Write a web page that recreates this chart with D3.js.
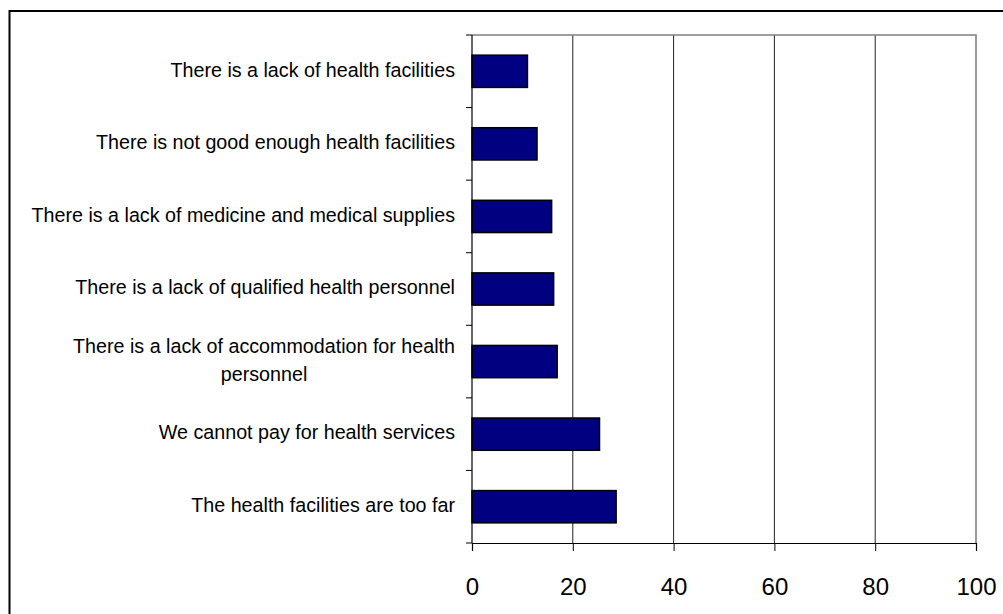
<!DOCTYPE html>
<html><head><meta charset="utf-8">
<script src="https://cdn.jsdelivr.net/npm/d3@7"></script>
<style>html,body{margin:0;padding:0;background:#fff;}svg{display:block;}</style>
</head><body>
<svg id="c" width="1003" height="614"></svg>
<script>
const categories = [
  ["There is a lack of health facilities"],
  ["There is not good enough health facilities"],
  ["There is a lack of medicine and medical supplies"],
  ["There is a lack of qualified health personnel"],
  ["There is a lack of accommodation for health", "personnel"],
  ["We cannot pay for health services"],
  ["The health facilities are too far"]
];
const values = [11.0, 12.9, 15.8, 16.2, 16.9, 25.3, 28.6];
const xTicks = [0, 20, 40, 60, 80, 100];

const svg = d3.select("#c");
const L = 472, R = 976, T = 35, B = 543;
const x = d3.scaleLinear().domain([0, 100]).range([L, R]);
const y = d3.scaleBand().domain(d3.range(categories.length)).range([T, B]).paddingInner(1.25/2.25).paddingOuter(1.25/4.5);
const yb = d3.scaleBand().domain(d3.range(categories.length)).range([T, B]);

// outer border
svg.append("rect").attr("x", 9.5).attr("y", 11).attr("width", 1100).attr("height", 700)
  .attr("fill", "none").attr("stroke", "#000").attr("stroke-width", 2);

// gridlines
svg.append("g").selectAll("line").data(xTicks.filter(d => d > 0 && d < 100)).join("line")
  .attr("x1", d => x(d)).attr("x2", d => x(d)).attr("y1", T).attr("y2", B)
  .attr("stroke", "#222").attr("stroke-width", 1);

// plot area border top/right (grey)
svg.append("path").attr("d", `M${L},${T}H${R}V${B}`).attr("fill", "none")
  .attr("stroke", "#808080").attr("stroke-width", 1.6);

// bars
svg.append("g").selectAll("rect").data(values).join("rect")
  .attr("x", x(0)).attr("y", (d, i) => y(i)).attr("width", d => x(d) - x(0)).attr("height", y.bandwidth())
  .attr("fill", "#000080").attr("stroke", "#000").attr("stroke-width", 1.5);

// x axis
const xAxis = d3.axisBottom(x).tickValues(xTicks).tickSize(8).tickPadding(27).tickFormat(d3.format("d"));
const gx = svg.append("g").attr("transform", `translate(0,${B})`).call(xAxis);
gx.select(".domain").attr("stroke", "#000").attr("stroke-width", 1.2);
gx.selectAll(".tick line").attr("stroke", "#000").attr("stroke-width", 1);
gx.selectAll("text").attr("font-family", "Liberation Sans, Arial, sans-serif").attr("font-size", 24).attr("fill", "#000");

// y axis ticks (between categories)
const bounds = d3.range(categories.length + 1).map(i => T + i * yb.step());
svg.append("line").attr("x1", L).attr("x2", L).attr("y1", T).attr("y2", B).attr("stroke", "#000").attr("stroke-width", 1.2);
svg.append("g").selectAll("line").data(bounds).join("line")
  .attr("x1", L - 6).attr("x2", L).attr("y1", d => d).attr("y2", d => d)
  .attr("stroke", "#000").attr("stroke-width", 1);

// category labels
const fs = 19.7, lh = 28.3, rightEdge = 455;
categories.forEach((lines, i) => {
  const cy = yb(i) + yb.step() / 2;
  const g = svg.append("g");
  const texts = lines.map((t, j) => g.append("text")
    .attr("font-family", "Liberation Sans, Arial, sans-serif").attr("font-size", fs).attr("fill", "#000")
    .attr("text-anchor", "middle")
    .attr("y", cy + (j - (lines.length - 1) / 2) * lh).attr("dy", "0.27em").text(t));
  const maxW = d3.max(texts, t => t.node().getComputedTextLength());
  texts.forEach(t => t.attr("x", rightEdge - maxW / 2));
});
</script>
</body></html>
